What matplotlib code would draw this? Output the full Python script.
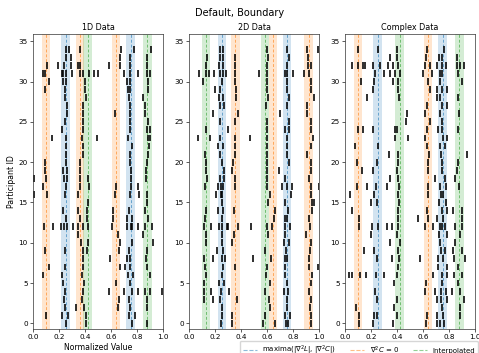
import matplotlib
matplotlib.use("Agg")
import matplotlib.pyplot as plt
from matplotlib.lines import Line2D

participant_ids = list(range(35))
panel_titles = ["1D Data", "2D Data", "Complex Data"]
legend_labels = [r"maxima($|\nabla^2 L|$, $|\nabla^2 C|$)", r"$\nabla^2 C$ = 0", "Interpolated"]

# band centres per panel
maxima_1d = [0.25, 0.75]
zero_1d = [0.10, 0.36, 0.64]
interp_1d = [0.42, 0.88]

maxima_2d = [0.255, 0.755]
zero_2d = [0.357, 0.647, 0.92]
interp_2d = [0.13, 0.585]

maxima_cx = [0.25, 0.75]
zero_cx = [0.10, 0.64]
interp_cx = [0.42, 0.88]

# event positions per participant (row index = participant id)
events_1d = [
    [0.25, 0.41, 0.76, 0.88],
    [0.097, 0.226, 0.27, 0.408, 0.741, 0.785],
    [0.246, 0.33, 0.392, 0.656, 0.746, 0.879],
    [0.238, 0.374, 0.664, 0.738, 0.879],
    [0.246, 0.387, 0.587, 0.70, 0.76, 0.81, 0.86, 0.90, 0.995],
    [0.233, 0.392, 0.638, 0.746],
    [0.079, 0.22, 0.374, 0.733, 0.772, 0.90],
    [0.126, 0.246, 0.382, 0.669, 0.708, 0.746, 0.879],
    [0.387, 0.592, 0.72, 0.746, 0.869],
    [0.092, 0.246, 0.387, 0.418, 0.662, 0.738, 0.874],
    [0.367, 0.426, 0.669, 0.759, 0.92],
    [0.349, 0.656, 0.849],
    [0.087, 0.156, 0.215, 0.241, 0.264, 0.305, 0.349, 0.382, 0.426, 0.605, 0.72, 0.754, 0.764, 0.81, 0.862, 0.918],
    [0.254, 0.362, 0.418, 0.613, 0.72, 0.759, 0.887],
    [0.233, 0.349, 0.418, 0.618, 0.738, 0.862],
    [0.426, 0.874],
    [0.008, 0.105, 0.246, 0.349, 0.631, 0.746, 0.815, 0.874],
    [0.079, 0.254, 0.362, 0.433, 0.638, 0.754, 0.81],
    [0.008, 0.097, 0.241, 0.259, 0.362, 0.426, 0.75, 0.87],
    [0.09, 0.23, 0.26, 0.36, 0.75, 0.87],
    [0.092, 0.25, 0.362, 0.746, 0.874],
    [0.25, 0.387, 0.746, 0.887],
    [0.25, 0.387, 0.759, 0.895],
    [0.144, 0.25, 0.374, 0.49, 0.733, 0.887, 0.90],
    [0.22, 0.387, 0.746, 0.874, 0.90],
    [0.246, 0.387, 0.746, 0.887],
    [0.259, 0.387, 0.631, 0.746, 0.862],
    [0.259, 0.387, 0.746, 0.862],
    [0.246, 0.408, 0.741, 0.849],
    [0.092, 0.246, 0.40, 0.733, 0.746, 0.887],
    [0.123, 0.233, 0.254, 0.40, 0.72, 0.746, 0.887],
    [0.074, 0.092, 0.22, 0.233, 0.254, 0.297, 0.362, 0.382, 0.433, 0.472, 0.503, 0.703, 0.746, 0.805, 0.874, 0.90],
    [0.11, 0.195, 0.241, 0.29, 0.344, 0.362, 0.585, 0.669, 0.746, 0.874],
    [0.251, 0.29, 0.669, 0.746, 0.874],
    [0.251, 0.277, 0.362, 0.675, 0.78, 0.905],
]

events_2d = [
    [0.248, 0.33, 0.573, 0.665, 0.745, 0.76, 0.937],
    [0.251, 0.328, 0.581, 0.742, 0.78, 0.935],
    [0.251, 0.625, 0.755, 0.928],
    [0.114, 0.186, 0.238, 0.372, 0.612, 0.755, 0.935],
    [0.114, 0.168, 0.245, 0.31, 0.587, 0.729, 0.762, 0.922],
    [0.116, 0.23, 0.271, 0.625, 0.755, 0.935],
    [0.134, 0.256, 0.592, 0.742, 0.948],
    [0.121, 0.264, 0.354, 0.599, 0.742, 0.922, 0.995],
    [0.114, 0.186, 0.251, 0.276, 0.496, 0.633, 0.742, 0.755, 0.922],
    [0.212, 0.264, 0.587, 0.747, 0.928],
    [0.127, 0.256, 0.328, 0.729, 0.767, 0.935],
    [0.127, 0.251, 0.349, 0.607, 0.736, 0.897],
    [0.116, 0.168, 0.233, 0.251, 0.289, 0.302, 0.38, 0.478, 0.599, 0.638, 0.742, 0.78, 0.93],
    [0.121, 0.251, 0.651, 0.742, 0.755, 0.922],
    [0.134, 0.22, 0.264, 0.349, 0.664, 0.762, 0.943],
    [0.251, 0.607, 0.742, 0.948, 0.961],
    [0.204, 0.245, 0.256, 0.625, 0.788, 0.935],
    [0.121, 0.225, 0.245, 0.264, 0.354, 0.599, 0.716, 0.755, 0.793, 0.935, 0.998],
    [0.142, 0.238, 0.271, 0.354, 0.599, 0.742, 0.922],
    [0.134, 0.271, 0.328, 0.599, 0.69, 0.935],
    [0.129, 0.25, 0.341, 0.60, 0.767, 0.935],
    [0.121, 0.238, 0.354, 0.60, 0.755, 0.91],
    [0.225, 0.264, 0.354, 0.60, 0.755, 0.935],
    [0.07, 0.165, 0.238, 0.354, 0.47, 0.60, 0.755, 0.956],
    [0.134, 0.302, 0.60, 0.742, 0.767, 0.935],
    [0.238, 0.354, 0.60, 0.767, 0.935],
    [0.186, 0.38, 0.698, 0.91],
    [0.238, 0.271, 0.594, 0.755, 0.91],
    [0.233, 0.258, 0.359, 0.605, 0.767, 0.961],
    [0.199, 0.238, 0.362, 0.60, 0.755, 0.94],
    [0.109, 0.25, 0.354, 0.60, 0.755, 0.935],
    [0.078, 0.129, 0.155, 0.194, 0.238, 0.264, 0.284, 0.354, 0.535, 0.60, 0.736, 0.755, 0.80, 0.884, 0.922],
    [0.134, 0.233, 0.264, 0.354, 0.60, 0.755, 0.917, 0.935],
    [0.14, 0.238, 0.258, 0.354, 0.605, 0.767, 0.915],
    [0.238, 0.264, 0.60, 0.755, 0.91, 0.995],
]

events_cx = [
    [0.11, 0.218, 0.37, 0.62, 0.705, 0.73, 0.76],
    [0.11, 0.223, 0.244, 0.397, 0.628, 0.705, 0.751, 0.885],
    [0.082, 0.377, 0.744, 0.885],
    [0.244, 0.403, 0.705, 0.738, 0.782, 0.915],
    [0.231, 0.615, 0.692, 0.738, 0.777, 0.821, 0.885],
    [0.377, 0.623, 0.744, 0.872],
    [0.033, 0.051, 0.115, 0.162, 0.238, 0.303, 0.403, 0.674, 0.744, 0.782, 0.838, 0.897],
    [0.41, 0.718, 0.782, 0.872],
    [0.244, 0.364, 0.418, 0.577, 0.713, 0.756, 0.838, 0.923],
    [0.146, 0.226, 0.41, 0.738, 0.769, 0.833, 0.897],
    [0.346, 0.423, 0.731, 0.846],
    [0.197, 0.403, 0.726, 0.782, 0.885],
    [0.11, 0.21, 0.256, 0.32, 0.364, 0.405, 0.615, 0.679, 0.731, 0.744, 0.769, 0.846, 0.897],
    [0.11, 0.405, 0.564, 0.636, 0.705, 0.756, 0.897],
    [0.056, 0.41, 0.633, 0.744, 0.782, 0.833, 0.897],
    [0.197, 0.249, 0.418, 0.726, 0.777],
    [0.038, 0.223, 0.41, 0.636, 0.736, 0.756],
    [0.095, 0.167, 0.238, 0.32, 0.418, 0.641, 0.731, 0.777, 0.879],
    [0.346, 0.41, 0.692, 0.769, 0.846],
    [0.128, 0.218, 0.397, 0.641, 0.744, 0.859],
    [0.09, 0.244, 0.41, 0.641, 0.744, 0.872],
    [0.341, 0.41, 0.649, 0.738, 0.936],
    [0.077, 0.256, 0.633, 0.731, 0.769],
    [0.385, 0.487, 0.615, 0.756, 0.782],
    [0.103, 0.141, 0.218, 0.385, 0.403, 0.628, 0.718, 0.744, 0.872],
    [0.469, 0.654, 0.744],
    [0.474, 0.615, 0.731, 0.879],
    [0.628, 0.744, 0.782],
    [0.167, 0.418, 0.705, 0.731, 0.872],
    [0.218, 0.41, 0.654, 0.705, 0.744, 0.782],
    [0.12, 0.223, 0.367, 0.41, 0.641, 0.731, 0.897],
    [0.231, 0.30, 0.346, 0.385, 0.423, 0.597, 0.667, 0.731, 0.744, 0.872],
    [0.051, 0.103, 0.141, 0.154, 0.218, 0.269, 0.333, 0.372, 0.41, 0.615, 0.654, 0.705, 0.744, 0.777, 0.859, 0.885, 0.915],
    [0.346, 0.403, 0.623, 0.726, 0.744, 0.864],
    [0.103, 0.251, 0.403, 0.633, 0.764],
]

x_ticks = [0.0, 0.2, 0.4, 0.6, 0.8, 1.0]
y_ticks = [0, 5, 10, 15, 20, 25, 30, 35]

C_MAX, C_ZERO, C_INT = "tab:blue", "tab:orange", "tab:green"
HALF_W = 0.032

W, H = 479, 353
fig = plt.figure(figsize=(W / 100, H / 100), dpi=100)

panels = [
    (events_1d, maxima_1d, zero_1d, interp_1d),
    (events_2d, maxima_2d, zero_2d, interp_2d),
    (events_cx, maxima_cx, zero_cx, interp_cx),
]
lefts = [33, 189, 345]
ax_w = 130
ax_top, ax_bot = 34, 329

for i, (events, mx, zr, it) in enumerate(panels):
    ax = fig.add_axes([lefts[i] / W, 1 - ax_bot / H, ax_w / W, (ax_bot - ax_top) / H])
    for centres, col in ((mx, C_MAX), (zr, C_ZERO), (it, C_INT)):
        for c in centres:
            ax.axvspan(c - HALF_W, c + HALF_W, color=col, alpha=0.2, lw=0)
            ax.axvline(c, color=col, ls="--", alpha=0.6, lw=0.7, dashes=(3, 2))
    ax.eventplot(events, lineoffsets=participant_ids, linelengths=0.85,
                 colors="black", linewidths=1.15)
    ax.set_xlim(0, 1)
    ax.set_ylim(-0.7, 35.9)
    ax.set_xticks(x_ticks)
    ax.set_yticks(y_ticks)
    ax.tick_params(labelsize=5.2, length=2, width=0.45, pad=1.8)
    for s in ax.spines.values():
        s.set_linewidth(0.5)
        s.set_color("#333333")
    ax.set_title(panel_titles[i], fontsize=5.8, pad=3.2)
    if i == 0:
        ax.set_xlabel("Normalized Value", fontsize=5.6, labelpad=2)
        ax.set_ylabel("Participant ID", fontsize=5.6, labelpad=2)

fig.suptitle("Default, Boundary", fontsize=7, y=1 - 13 / H, va="center")

handles = [
    Line2D([0], [0], color=C_MAX, ls="--", alpha=0.5, lw=0.8),
    Line2D([0], [0], color=C_ZERO, ls="--", alpha=0.5, lw=0.8),
    Line2D([0], [0], color=C_INT, ls="--", alpha=0.5, lw=0.8),
]
fig.legend(handles, legend_labels, loc="upper left", ncol=3,
           bbox_to_anchor=(240 / W, 1 - 341 / H), borderaxespad=0.0, fontsize=5.0,
           frameon=True, framealpha=0.8, edgecolor="#cccccc",
           borderpad=0.4, columnspacing=2.0, handlelength=2.0, handletextpad=0.8)

fig.savefig("out.png", dpi=100)
